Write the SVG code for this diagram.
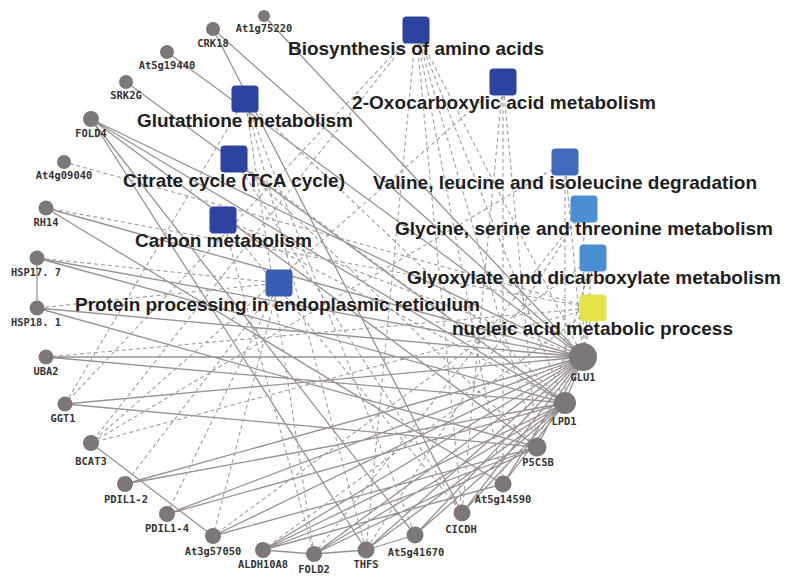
<svg xmlns="http://www.w3.org/2000/svg" width="794" height="585" viewBox="0 0 794 585">
<style>
.s{stroke:#9a9191;stroke-width:1.3;fill:none}
.d{stroke:#a09c9c;stroke-width:1.1;stroke-dasharray:4 3;fill:none}
.g{fill:#7d7777}
.gl{font-family:"DejaVu Sans Mono","Liberation Mono",monospace;font-weight:bold;font-size:10.4px;fill:#333;text-anchor:middle}
.pl{font-family:"Liberation Sans",Arial,sans-serif;font-weight:bold;font-size:19px;fill:#1e1e1e}
.b1{fill:#2c43a0}
.b2{fill:#3a5db4}
.b3{fill:#3f6bbd}
.b4{fill:#4b8fd3}
.y{fill:#e4e44a}
</style>
<rect width="794" height="585" fill="#fff"/>
<g id="edges">
<path class="s" d="M264,16L583,357M213,29L583,357M167,52L583,357M126,82L565,403M91,119L583,357M91,119L565,403M91,119L537,447M91,119L366,550M46,208L583,357M46,208L503,484M37,258L37,308M37,258L583,357M37,258L565,403M37,308L583,357M37,308L537,447M46,357L583,357M46,357L565,403M65,404L583,357M65,404L537,447M91,443L213,536M125,484L583,357M125,484L565,403M167,514L583,357M167,514L565,403M213,536L583,357M213,536L537,447M263,550L583,357M263,550L565,403M263,550L537,447M263,550L503,484M314,554L583,357M314,554L565,403M314,554L537,447M314,554L263,550M366,550L583,357M366,550L565,403M366,550L314,554M415,535L583,357M415,535L565,403M415,535L366,550M462,513L583,357M462,513L565,403M503,484L583,357M503,484L565,403M537,447L583,357M565,403L583,357M91,119L415,535M213,29L462,513"/>
<path class="d" d="M416,30L65,404M416,30L91,443M416,30L583,357M416,30L565,403M416,30L537,447M416,30L503,484M416,30L462,513M416,30L366,550M503,82L91,443M503,82L503,484M503,82L462,513M503,82L537,447M245,99L65,404M245,99L314,554M245,99L366,550M245,99L415,535M245,99L565,403M234,159L462,513M234,159L565,403M234,159L537,447M223,220L462,513M223,220L565,403M223,220L314,554M223,220L583,357M565,162L91,443M565,162L565,403M565,162L583,357M584,209L314,554M584,209L366,550M584,209L583,357M593,258L583,357M593,258L537,447M593,258L213,536M279,283L37,258M279,283L37,308M279,283L125,484M279,283L167,514M279,283L213,536M593,308L46,208M593,308L46,357M593,308L64,162M593,308L583,357M593,308L263,550M593,308L91,443"/>
</g>
<g id="pathways">
<g id="p-bio"><rect class="b1" x="402.5" y="16.5" width="27" height="27" rx="4"/><text class="pl" x="288" y="55" textLength="256">Biosynthesis of amino acids</text></g>
<g id="p-oxo"><rect class="b1" x="489.5" y="68.5" width="27" height="27" rx="4"/><text class="pl" x="352" y="109" textLength="304">2-Oxocarboxylic acid metabolism</text></g>
<g id="p-glut"><rect class="b1" x="231.5" y="85.5" width="27" height="27" rx="4"/><text class="pl" x="137" y="127" textLength="216">Glutathione metabolism</text></g>
<g id="p-cit"><rect class="b1" x="220.5" y="145.5" width="27" height="27" rx="4"/><text class="pl" x="123" y="187" textLength="222">Citrate cycle (TCA cycle)</text></g>
<g id="p-val"><rect class="b3" x="551.5" y="148.5" width="27" height="27" rx="4"/><text class="pl" x="373" y="189" textLength="384">Valine, leucine and isoleucine degradation</text></g>
<g id="p-gly"><rect class="b4" x="570.5" y="195.5" width="27" height="27" rx="4"/><text class="pl" x="395" y="235" textLength="378">Glycine, serine and threonine metabolism</text></g>
<g id="p-carb"><rect class="b1" x="209.5" y="206.5" width="27" height="27" rx="4"/><text class="pl" x="135" y="247" textLength="177">Carbon metabolism</text></g>
<g id="p-glyox"><rect class="b4" x="579.5" y="244.5" width="27" height="27" rx="4"/><text class="pl" x="407" y="284" textLength="374">Glyoxylate and dicarboxylate metabolism</text></g>
<g id="p-prot"><rect class="b2" x="265.5" y="269.5" width="27" height="27" rx="4"/><text class="pl" x="75" y="311" textLength="405">Protein processing in endoplasmic reticulum</text></g>
<g id="p-nuc"><rect class="y" x="579.5" y="294.5" width="27" height="27" rx="4"/><text class="pl" x="452" y="335" textLength="281">nucleic acid metabolic process</text></g>
</g>
<g id="genes">
<g id="n-At1g75220"><circle class="g" cx="264" cy="16" r="6"/><text class="gl" x="264" y="32">At1g75220</text></g>
<g id="n-CRK18"><circle class="g" cx="213" cy="29" r="7"/><text class="gl" x="213" y="47">CRK18</text></g>
<g id="n-At5g19440"><circle class="g" cx="167" cy="52" r="7"/><text class="gl" x="167" y="69">At5g19440</text></g>
<g id="n-SRK2G"><circle class="g" cx="126" cy="82" r="7"/><text class="gl" x="126" y="99">SRK2G</text></g>
<g id="n-FOLD4"><circle class="g" cx="91" cy="119" r="8"/><text class="gl" x="91" y="137">FOLD4</text></g>
<g id="n-At4g09040"><circle class="g" cx="64" cy="162" r="7"/><text class="gl" x="64" y="179">At4g09040</text></g>
<g id="n-RH14"><circle class="g" cx="46" cy="208" r="7.5"/><text class="gl" x="46" y="226">RH14</text></g>
<g id="n-HSP17.7"><circle class="g" cx="37" cy="258" r="7.5"/><text class="gl" x="36" y="276">HSP17. 7</text></g>
<g id="n-HSP18.1"><circle class="g" cx="37" cy="308" r="7.5"/><text class="gl" x="36" y="326">HSP18. 1</text></g>
<g id="n-UBA2"><circle class="g" cx="46" cy="357" r="7.5"/><text class="gl" x="46" y="375">UBA2</text></g>
<g id="n-GGT1"><circle class="g" cx="65" cy="404" r="7.5"/><text class="gl" x="63" y="422">GGT1</text></g>
<g id="n-BCAT3"><circle class="g" cx="91" cy="443" r="8"/><text class="gl" x="91" y="465">BCAT3</text></g>
<g id="n-PDIL1-2"><circle class="g" cx="125" cy="484" r="8"/><text class="gl" x="126" y="503">PDIL1-2</text></g>
<g id="n-PDIL1-4"><circle class="g" cx="167" cy="514" r="8"/><text class="gl" x="167" y="532">PDIL1-4</text></g>
<g id="n-At3g57050"><circle class="g" cx="213" cy="536" r="8"/><text class="gl" x="213" y="555">At3g57050</text></g>
<g id="n-ALDH10A8"><circle class="g" cx="263" cy="550" r="8"/><text class="gl" x="263" y="568">ALDH10A8</text></g>
<g id="n-FOLD2"><circle class="g" cx="314" cy="554" r="8"/><text class="gl" x="314" y="573">FOLD2</text></g>
<g id="n-THFS"><circle class="g" cx="366" cy="550" r="8.5"/><text class="gl" x="366" y="568">THFS</text></g>
<g id="n-At5g41670"><circle class="g" cx="415" cy="535" r="8.5"/><text class="gl" x="416" y="556">At5g41670</text></g>
<g id="n-CICDH"><circle class="g" cx="462" cy="513" r="8.5"/><text class="gl" x="461" y="533">CICDH</text></g>
<g id="n-At5g14590"><circle class="g" cx="503" cy="484" r="8.5"/><text class="gl" x="503" y="503">At5g14590</text></g>
<g id="n-P5CSB"><circle class="g" cx="537" cy="447" r="9.5"/><text class="gl" x="538" y="466">P5CSB</text></g>
<g id="n-LPD1"><circle class="g" cx="565" cy="403" r="11"/><text class="gl" x="564" y="425">LPD1</text></g>
<g id="n-GLU1"><circle class="g" cx="583" cy="357" r="14"/><text class="gl" x="583" y="381">GLU1</text></g>
</g>
</svg>
